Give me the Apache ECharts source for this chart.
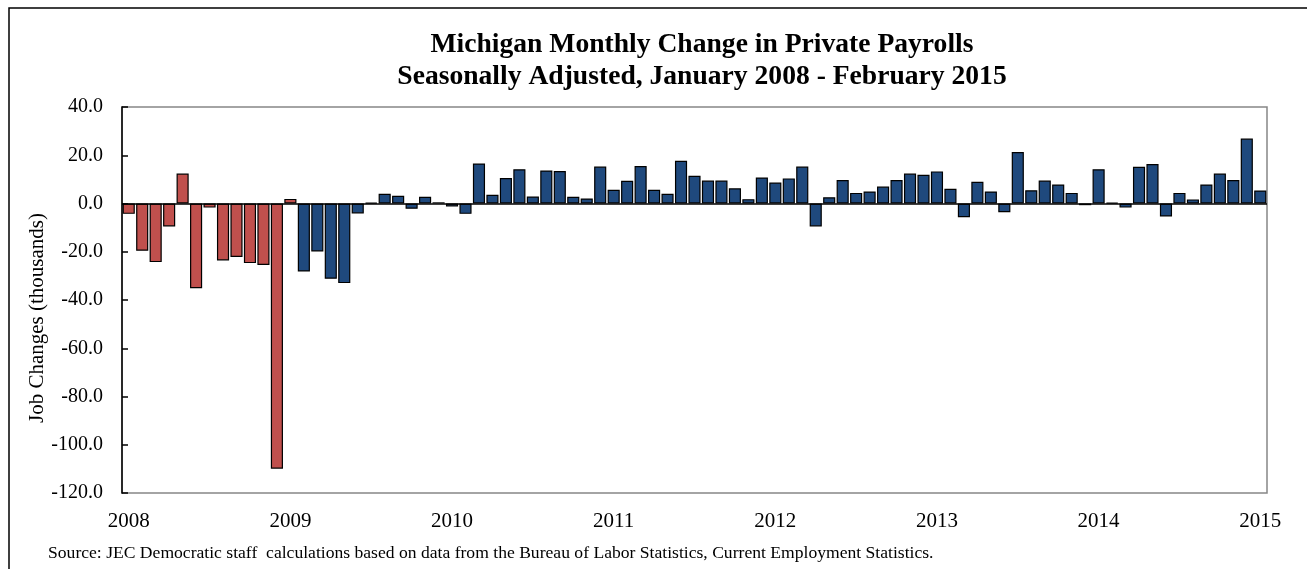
<!DOCTYPE html>
<html>
<head>
<meta charset="utf-8">
<script src="https://cdn.jsdelivr.net/npm/echarts@6/dist/echarts.min.js"></script>
<style>
html,body{margin:0;padding:0;background:#fff;}
#chart{width:1307px;height:569px;}
</style>
</head>
<body>
<div id="chart"></div>
<script>
// ---- data ----
const years = [2008, 2009, 2010, 2011, 2012, 2013, 2014, 2015];
const monthCount = 85;
// monthly change in private payrolls (thousands), Jan 2008 onward
const jobChanges = [
  -4.3, -19.6, -24.3, -9.5, 12.4, -35.1, -1.7, -23.6, -22.2, -24.7, -25.5, -109.9,
  1.9, -28.2, -19.9, -31.2, -33.0, -4.1, 0.3, 4.0, 3.2, -2.2, 2.8, 0.5,
  -1.2, -4.3, 16.6, 3.6, 10.6, 14.2, 2.9, 13.7, 13.5, 2.8, 2.1, 15.3,
  5.7, 9.4, 15.5, 5.7, 4.0, 17.7, 11.5, 9.5, 9.5, 6.3, 1.8, 10.8,
  8.7, 10.4, 15.3, -9.5, 2.6, 9.7, 4.4, 5.0, 7.0, 9.7, 12.4, 11.9,
  13.3, 6.1, -5.7, 9.0, 5.0, -3.6, 21.3, 5.5, 9.5, 7.9, 4.4, -0.7,
  14.2, 0.3, -1.7, 15.2, 16.4, -5.4, 4.4, 1.7, 7.9, 12.4, 9.7, 26.9,
  5.4
];
const redCount = 13; // Jan 2008 - Jan 2009 drawn in red
const yTicks = [-120, -100, -80, -60, -40, -20, 0, 20, 40];

const categories = [];
years.forEach(y => { for (let m = 1; m <= 12; m++) categories.push(y + '-' + (m < 10 ? '0' : '') + m); });
categories.length = monthCount;

const RED = '#C0504D', BLUE = '#1F497D';
const serif = '"Liberation Serif", "Times New Roman", serif';

const chart = echarts.init(document.getElementById('chart'));
chart.setOption({
  animation: false,
  backgroundColor: '#fff',
  title: {
    text: 'Michigan Monthly Change in Private Payrolls\nSeasonally Adjusted, January 2008 - February 2015',
    left: 697, top: 24, textAlign: 'center',
    textStyle: { fontFamily: serif, fontWeight: 'bold', fontSize: 27.6, lineHeight: 32, color: '#000' }
  },
  graphic: [
    { type: 'rect', shape: { x: 9, y: 8, width: 1400, height: 700 },
      style: { fill: 'none', stroke: '#000', lineWidth: 1.5 }, silent: true },
    { type: 'text', x: 37, y: 318, rotation: Math.PI / 2,
      style: { text: 'Job Changes (thousands)', font: '21px ' + serif, fill: '#000', align: 'center', verticalAlign: 'middle' }, silent: true },
    { type: 'text', x: 48, y: 544,
      style: { text: 'Source: JEC Democratic staff  calculations based on data from the Bureau of Labor Statistics, Current Employment Statistics.',
               font: '17.6px ' + serif, fill: '#000' }, silent: true }
  ],
  grid: { left: 122, right: 40, top: 107, bottom: 76, show: true, borderColor: '#868686', borderWidth: 1.5, backgroundColor: 'transparent' },
  xAxis: {
    type: 'category', data: categories,
    axisLine: { onZero: false, show: false },
    axisTick: { show: false },
    axisLabel: { interval: 11, formatter: v => v.slice(0, 4), fontFamily: serif, fontSize: 21, color: '#000', margin: 18 },
    splitLine: { show: false }
  },
  yAxis: {
    type: 'value', min: -120, max: 40, interval: 20,
    axisLine: { show: true, lineStyle: { color: '#000', width: 1.5 } },
    axisTick: { show: true, inside: true, length: 6, lineStyle: { color: '#000', width: 1.5 } },
    axisLabel: { formatter: v => v.toFixed(1), fontFamily: serif, fontSize: 20, color: '#000', margin: 19 },
    splitLine: { show: false }
  },
  series: [{
    type: 'bar',
    barCategoryGap: '10%',
    data: jobChanges.map((v, i) => ({ value: v, itemStyle: { color: i < redCount ? RED : BLUE } })),
    itemStyle: { borderColor: '#000', borderWidth: 1.2 },
    markLine: {
      silent: true, symbol: 'none', label: { show: false },
      lineStyle: { color: '#000', width: 1.5, type: 'solid' },
      data: [{ yAxis: 0 }]
    }
  }]
});
</script>
</body>
</html>
